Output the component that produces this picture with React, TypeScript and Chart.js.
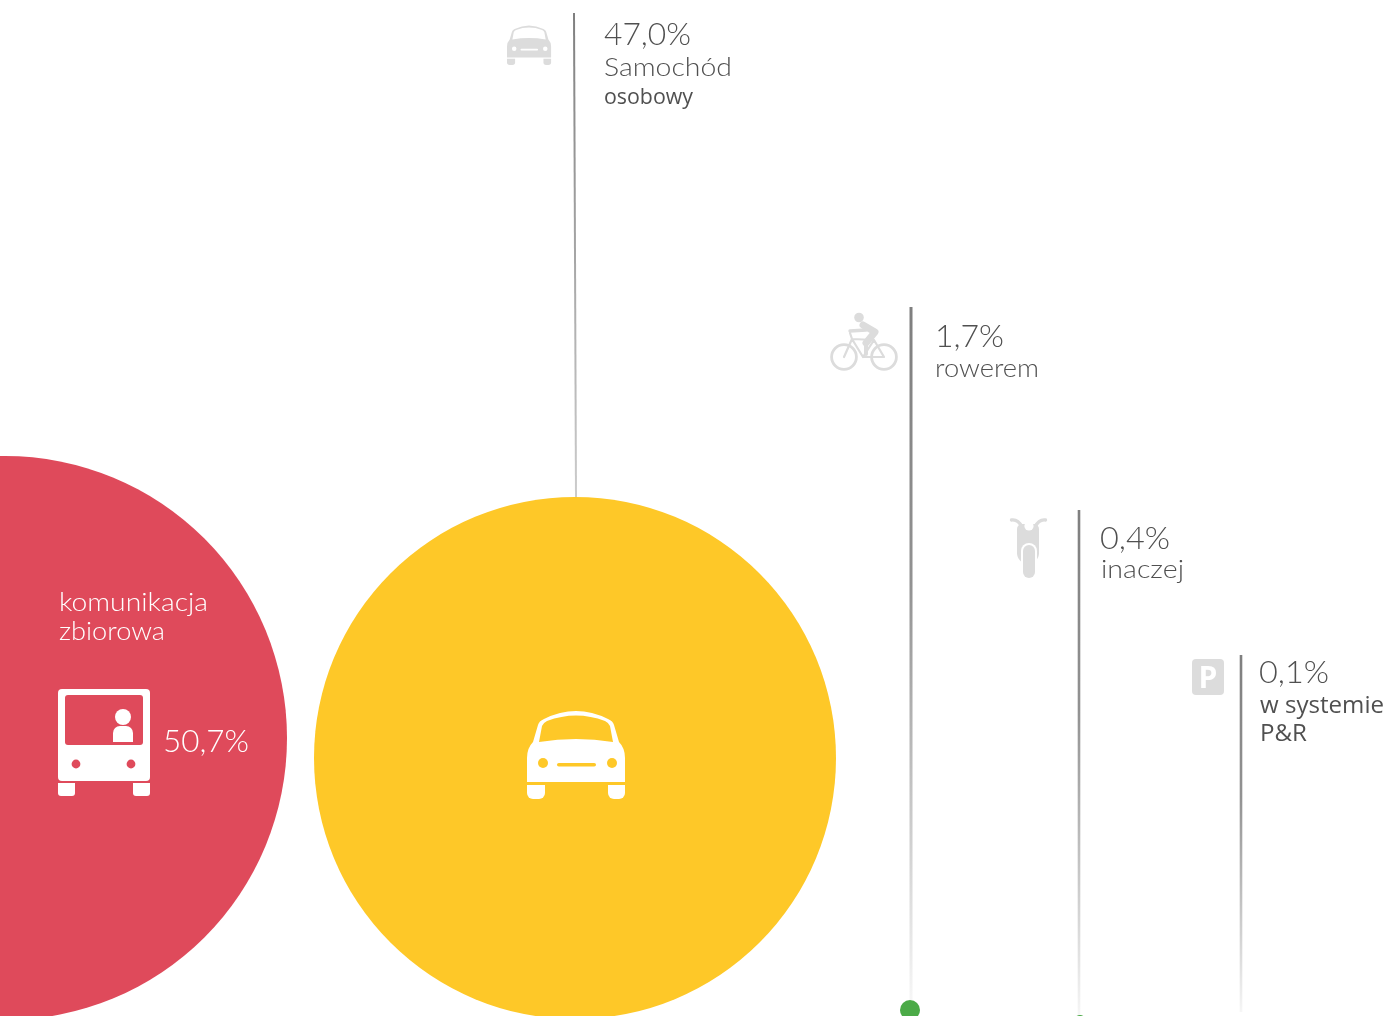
import React, { useEffect, useRef } from "react";
import { Chart, registerables } from "chart.js";

Chart.register(...registerables);

const W = 1388;
const H = 1016;

const categories = ["komunikacja zbiorowa", "Samochód osobowy", "rowerem", "inaczej", "w systemie P&R"];
const shares = [50.7, 47.0, 1.7, 0.4, 0.1];
const bubbleX = [5, 575, 910, 1080, 1241];
const bubbleY = [738, 758, 1010, 1021, 1030];
const bubbleR = [282, 261, 10, 6, 3];
const bubbleColors = ["#DF4A5B", "#FEC828", "#4BAA47", "#4BAA47", "#4BAA47"];
const stemTopX = [574, 911, 1079, 1241];
const stemBottomX = [576, 911, 1079, 1241];
const stemTopY = [13, 307, 510, 655];
const stemBottomY = [497, 1000, 1016, 1012];
const stemWidth = [2, 3, 2.6, 2.6];

const pctText = (v: number) => v.toFixed(1).replace(".", ",") + "%";

const GOTHIC = "Lato";
const HUMAN = '"Open Sans"';

type Label = { t: string; x: number; y: number; w: number; font: string; color: string };
const GREY = "#505050";
const labels: Label[] = [
  { t: "komunikacja", x: 59, y: 611, w: 149, font: `300 25px ${GOTHIC}`, color: "#fff" },
  { t: "zbiorowa", x: 59, y: 640, w: 106, font: `300 25px ${GOTHIC}`, color: "#fff" },
  { t: pctText(shares[0]), x: 163, y: 752, w: 86, font: `300 31px ${GOTHIC}`, color: "#fff" },
  { t: pctText(shares[1]), x: 604, y: 45, w: 87, font: `300 31px ${GOTHIC}`, color: GREY },
  { t: "Samochód", x: 604, y: 76, w: 128, font: `300 25px ${GOTHIC}`, color: GREY },
  { t: "osobowy", x: 604, y: 104, w: 89, font: `400 21px ${HUMAN}`, color: GREY },
  { t: pctText(shares[2]), x: 935, y: 347, w: 69, font: `300 31px ${GOTHIC}`, color: GREY },
  { t: "rowerem", x: 935, y: 377, w: 104, font: `300 25px ${GOTHIC}`, color: GREY },
  { t: pctText(shares[3]), x: 1100, y: 549, w: 70, font: `300 31px ${GOTHIC}`, color: GREY },
  { t: "inaczej", x: 1101, y: 578, w: 83, font: `300 25px ${GOTHIC}`, color: GREY },
  { t: pctText(shares[4]), x: 1259, y: 683, w: 70, font: `300 31px ${GOTHIC}`, color: GREY },
  { t: "w systemie", x: 1260, y: 713, w: 124, font: `400 23px ${HUMAN}`, color: GREY },
  { t: "P&R", x: 1260, y: 741, w: 47, font: `400 23px ${HUMAN}`, color: GREY },
];

function rr(c: CanvasRenderingContext2D, x: number, y: number, w: number, h: number, r: number | number[]) {
  c.beginPath();
  c.roundRect(x, y, w, h, r);
  c.fill();
}
function dot(c: CanvasRenderingContext2D, x: number, y: number, r: number) {
  c.beginPath();
  c.arc(x, y, r, 0, Math.PI * 2);
  c.fill();
}

function carIcon(c: CanvasRenderingContext2D, ox: number, oy: number, s: number, color: string, hole: string) {
  c.save();
  c.translate(ox, oy);
  c.scale(s, s);
  c.fillStyle = color;
  c.beginPath();
  c.moveTo(3, 72);
  c.lineTo(0, 72);
  c.lineTo(0, 48);
  c.quadraticCurveTo(0, 38, 6, 32);
  c.lineTo(11, 15);
  c.quadraticCurveTo(12, 11, 17, 9);
  c.quadraticCurveTo(49, -7, 81, 9);
  c.quadraticCurveTo(86, 11, 87, 15);
  c.lineTo(92, 32);
  c.quadraticCurveTo(98, 38, 98, 48);
  c.lineTo(98, 72);
  c.closePath();
  c.moveTo(12, 32);
  c.quadraticCurveTo(49, 26, 86, 32);
  c.lineTo(83, 16);
  c.quadraticCurveTo(82, 13, 78, 11);
  c.quadraticCurveTo(49, 0, 20, 11);
  c.quadraticCurveTo(16, 13, 15, 16);
  c.closePath();
  c.fill("evenodd");
  rr(c, 0, 75, 18, 14, [0, 0, 6, 6]);
  rr(c, 81, 75, 17, 14, [0, 0, 6, 6]);
  c.fillStyle = hole;
  dot(c, 16, 53, 5);
  dot(c, 85, 53, 5);
  rr(c, 30, 53, 39, 3.6, 1.8);
  c.restore();
}

function busIcon(c: CanvasRenderingContext2D, ox: number, oy: number, color: string, hole: string) {
  c.save();
  c.translate(ox, oy);
  c.fillStyle = color;
  rr(c, 0, 0, 92, 92, 4);
  rr(c, 0, 94, 17, 13, [0, 0, 3, 3]);
  rr(c, 75, 94, 17, 13, [0, 0, 3, 3]);
  c.fillStyle = hole;
  rr(c, 7, 6, 78, 50, 3);
  dot(c, 18, 75, 4.4);
  dot(c, 73, 75, 4.4);
  c.fillStyle = color;
  dot(c, 65, 28, 8);
  rr(c, 55, 37, 20, 16, [7, 7, 0, 0]);
  c.restore();
}

function bikeIcon(c: CanvasRenderingContext2D, color: string) {
  c.save();
  c.strokeStyle = color;
  c.fillStyle = color;
  c.lineCap = "round";
  c.lineJoin = "round";
  c.lineWidth = 2.8;
  c.beginPath();
  c.arc(844, 357, 12.4, 0, Math.PI * 2);
  c.moveTo(896.4, 357);
  c.arc(884, 357, 12.4, 0, Math.PI * 2);
  c.stroke();
  c.lineWidth = 2.2;
  c.beginPath();
  c.moveTo(844, 357);
  c.lineTo(852, 339);
  c.lineTo(874, 340);
  c.lineTo(884, 357);
  c.lineTo(863, 357);
  c.lineTo(852, 339);
  c.moveTo(863, 357);
  c.lineTo(874, 340);
  c.moveTo(852, 339);
  c.lineTo(850, 333);
  c.stroke();
  dot(c, 859, 317.5, 4.8);
  c.lineWidth = 3.4;
  c.beginPath();
  c.moveTo(850, 331);
  c.lineTo(866, 330);
  c.stroke();
  c.lineWidth = 7;
  c.beginPath();
  c.moveTo(863, 325);
  c.lineTo(875, 332);
  c.lineTo(866, 343);
  c.stroke();
  c.lineWidth = 4;
  c.beginPath();
  c.moveTo(866, 343);
  c.lineTo(866, 354);
  c.stroke();
  c.restore();
}

function motoIcon(c: CanvasRenderingContext2D, color: string) {
  c.save();
  c.strokeStyle = color;
  c.fillStyle = color;
  c.lineCap = "round";
  c.lineWidth = 3.4;
  c.beginPath();
  c.moveTo(1011.5, 520);
  c.quadraticCurveTo(1018, 519, 1022, 527);
  c.moveTo(1045.5, 520);
  c.quadraticCurveTo(1039, 519, 1035, 527);
  c.stroke();
  rr(c, 1017, 524, 22, 40, [5, 5, 11, 11]);
  c.fillStyle = "#fff";
  dot(c, 1029, 526, 4.6);
  rr(c, 1021, 543, 16, 36, 8);
  c.fillStyle = color;
  rr(c, 1023, 545, 12, 33, 6);
  c.restore();
}

const annotationPlugin = {
  id: "annotations",
  afterDatasetsDraw(chart: any) {
    const c: CanvasRenderingContext2D = chart.ctx;
    const ICON = "#dcdcdc";
    busIcon(c, 58, 689, "#fff", bubbleColors[0]);
    carIcon(c, 527, 710, 1, "#fff", bubbleColors[1]);
    carIcon(c, 507, 25, 0.45, ICON, "#fff");
    bikeIcon(c, ICON);
    motoIcon(c, ICON);
    c.fillStyle = ICON;
    rr(c, 1192, 659, 32, 36, 4);
    c.save();
    c.fillStyle = "#fff";
    c.font = "700 30px 'Open Sans'";
    c.textAlign = "center";
    c.textBaseline = "alphabetic";
    c.fillText("P", 1208, 688);
    c.restore();
    c.textBaseline = "alphabetic";
    c.textAlign = "left";
    for (const l of labels) {
      c.save();
      c.font = l.font;
      c.fillStyle = l.color;
      const m = c.measureText(l.t).width;
      c.translate(l.x, l.y);
      c.scale(l.w / m, 1);
      c.fillText(l.t, 0, 0);
      c.restore();
    }
  },
};

export default function App() {
  const ref = useRef<HTMLCanvasElement>(null);
  useEffect(() => {
    const stems = stemTopX.map((_, i) => ({
      type: "line" as const,
      label: categories[i + 1] + " stem",
      data: [
        { x: stemTopX[i], y: stemTopY[i] },
        { x: stemBottomX[i], y: stemBottomY[i] },
      ],
      borderWidth: stemWidth[i],
      pointRadius: 0,
      order: 2,
      borderColor: (ctx: any) => {
        const ch = ctx.chart;
        const ys = ch.scales.y;
        const y0 = ys ? ys.getPixelForValue(stemTopY[i]) : NaN;
        const y1 = ys ? ys.getPixelForValue(stemBottomY[i]) : NaN;
        if (!Number.isFinite(y0) || !Number.isFinite(y1)) return "#888888";
        const g = ch.ctx.createLinearGradient(0, y0, 0, y1);
        g.addColorStop(0, "#7f7f7f");
        if (i === 0) {
          g.addColorStop(1, "#cccccc");
        } else {
          g.addColorStop(0.4, "#929292");
          g.addColorStop(1, "#f6f6f6");
        }
        return g;
      },
    }));
    const chart = new Chart(ref.current!, {
      type: "bubble",
      data: {
        datasets: [
          {
            label: "Udział",
            data: shares.map((_, i) => ({ x: bubbleX[i], y: bubbleY[i], r: bubbleR[i] })),
            backgroundColor: bubbleColors,
            borderWidth: 0,
            hoverBorderWidth: 0,
            order: 1,
          },
          ...stems,
        ] as any,
      },
      options: {
        responsive: false,
        animation: false,
        layout: { padding: 0, autoPadding: false },
        plugins: { legend: { display: false }, tooltip: { enabled: false } },
        scales: {
          x: { type: "linear", min: 0, max: W, display: false },
          y: { type: "linear", min: 0, max: H, reverse: true, display: false },
        },
      },
      plugins: [annotationPlugin],
    });
    return () => chart.destroy();
  }, []);
  return (
    <canvas
      ref={ref}
      width={W}
      height={H}
      style={{ position: "absolute", left: 0, top: 0, width: W, height: H }}
    />
  );
}
